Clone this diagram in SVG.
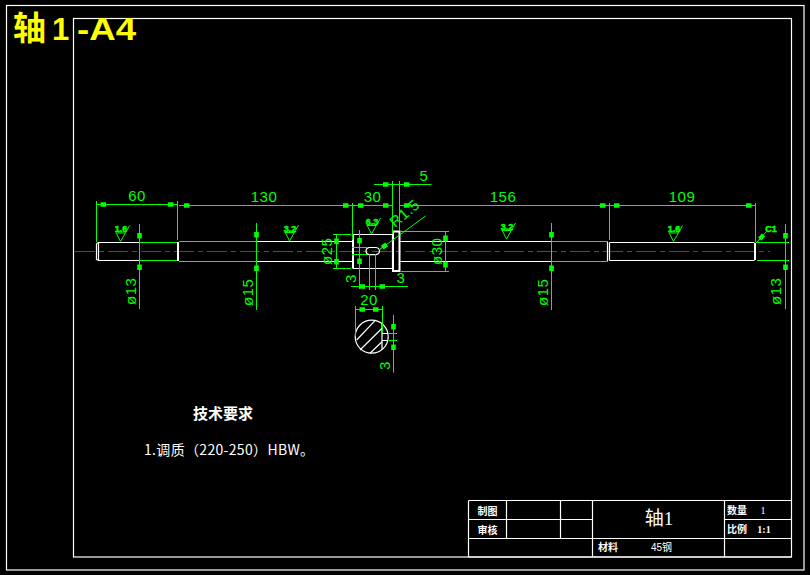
<svg xmlns="http://www.w3.org/2000/svg" xmlns:xlink="http://www.w3.org/1999/xlink" width="810" height="575" viewBox="0 0 810 575">
<style>
.w{fill:none;stroke:#fff;stroke-width:1.2}
.wb{fill:none;stroke:#fff;stroke-width:2}
.g{fill:none;stroke:#00ff00;stroke-width:1}
.gf{fill:#00ff00;stroke:none}
.c{fill:none;stroke:#ff0000;stroke-width:1;stroke-dasharray:20 4 5 4}
.dt{font-family:"Liberation Sans",sans-serif;font-size:15px;fill:#00ff00;letter-spacing:.5px}
.rt{font-family:"Liberation Sans",sans-serif;font-size:9px;font-weight:bold;fill:#00ff00;stroke:#00ff00;stroke-width:.5}
.wt{font-family:"Noto Sans CJK SC",sans-serif;fill:#fff}
.tb{font-family:"Noto Sans CJK SC",sans-serif;font-size:10px;font-weight:bold;fill:#fff}
.y{font-family:"Liberation Sans",sans-serif;font-size:31px;font-weight:bold;fill:#ffff00}
.m{text-anchor:middle}
</style>
<defs>
<path id="a" class="gf" d="M0 0L4-.5V-2.300H9.500V2.300H4V.5Z"/>
<g id="rough"><path class="g" d="M-5-8.500H4.500M-4-8L0 0L9-16"/></g>
</defs>
<rect width="810" height="575" fill="#000"/>
<g id="frame">
<rect class="w" x="6.500" y="5.500" width="797.500" height="564.500"/>
<rect class="w" x="73.500" y="18.500" width="718" height="538.500"/>
</g>
<g id="sheet-title">
<text x="13" y="40" font-family="'Noto Sans CJK SC',sans-serif" font-size="33" font-weight="bold" fill="#ffff00">轴</text>
<text class="y" x="52" y="40">1</text>
<text class="y" x="77" y="40" textLength="59" lengthAdjust="spacingAndGlyphs">-A4</text>
</g>
<g id="centerline"><path class="c" d="M75 251.500H770"/></g>
<g id="shaft">
<path class="w" d="M96.500 243.500L98.500 242.500H140M98.500 260.500H140M98.500 242.500V260.500M96.500 243.500V259.500L98.500 260.500"/>
<path class="wb" d="M178 242V261"/>
<path class="w" d="M257 241.500H352.500M257 261.500H352.500"/>
<path class="wb" d="M353 235V268.500"/>
<path class="w" d="M353 234.500H392.500V268.500H353"/>
<rect class="wb" x="393" y="231.500" width="6.500" height="39.500"/>
<path class="w" d="M400 241.500H551M400 261.500H551"/>
<path class="w" d="M607.500 241.500V261.500M609.500 242.500V260.500M609.500 242.500H754.500M609.500 260.500H754.500"/>
<path class="wb" d="M755 243V260"/>
<path class="w" d="M369 247.500H376Q379.500 248 379.500 251T376 254.700H369Q366 254 366 251T369 247.500Z"/>
</g>
<g id="section">
<circle class="w" cx="371.700" cy="336.700" r="16.500"/>
<path class="w" d="M382 324V349.500M382 333.500H388M382 340.500H388"/>
<path class="w" d="M356.700 340L375 320.700M360 350L382 328.300M370 353.300L382 341.700"/>
</g>
<g id="connectors">
<path class="g" d="M140 242.500H177M140 260.500H177M179 241.500H257M179 261.500H257M551 241.500H607M551 261.500H607"/>
<path class="g" d="M96.500 201V242M177.500 201V240M352.500 203V240M392.500 181V234M399.500 181V231M609.500 203V240M755.500 203V242"/>
<path class="g" d="M96.500 204.500H177.500M179 205.500H352.500M352.500 205.500H392.500M374 184.500H431.500M399.500 205.500H609.500M609.500 205.500H755.500"/>
<path class="g" d="M139.500 224V309M256.500 223V310M551.500 223V310M785.500 224V309M756 242.500H789M757 260.500H789"/>
<path class="g" d="M333 234.500H351M333 268.500H351M336.500 234.500V268.500M400 231.500H449M401 271.500H449M445.500 231.500V271.500"/>
<path class="g" d="M359.500 230V289M369.500 254V290M375.500 254V290M351 286.500H408M352 247.500H367M352 254.500H367"/>
<path class="g" d="M355.500 306V336M382.500 306V333M355.500 309.500H382.500"/>
<path class="g" d="M393.500 315V372.500M388.500 333.500H397M388.500 340.500H397"/>
<path class="g" d="M379 250L425.500 216M757 242L767 231"/>
<use xlink:href="#a" transform="translate(96.500 204.500)"/>
<use xlink:href="#a" transform="translate(177.500 204.500) rotate(180)"/>
<use xlink:href="#a" transform="translate(180 205.500)"/>
<use xlink:href="#a" transform="translate(352.500 205.500) rotate(180)"/>
<use xlink:href="#a" transform="translate(354 205.500)"/>
<use xlink:href="#a" transform="translate(392.500 205.500) rotate(180)"/>
<use xlink:href="#a" transform="translate(392.500 184.500) rotate(180)"/>
<use xlink:href="#a" transform="translate(400 184.500)"/>
<use xlink:href="#a" transform="translate(400 205.500)"/>
<use xlink:href="#a" transform="translate(609.500 205.500) rotate(180)"/>
<use xlink:href="#a" transform="translate(610 205.500)"/>
<use xlink:href="#a" transform="translate(755.500 205.500) rotate(180)"/>
<use xlink:href="#a" transform="translate(139.500 242.500) rotate(-90)"/>
<use xlink:href="#a" transform="translate(139.500 260.500) rotate(90)"/>
<use xlink:href="#a" transform="translate(256.500 241.500) rotate(-90)"/>
<use xlink:href="#a" transform="translate(256.500 261.500) rotate(90)"/>
<use xlink:href="#a" transform="translate(551.500 241.500) rotate(-90)"/>
<use xlink:href="#a" transform="translate(551.500 261.500) rotate(90)"/>
<use xlink:href="#a" transform="translate(785.500 242.500) rotate(-90)"/>
<use xlink:href="#a" transform="translate(785.500 260.500) rotate(90)"/>
<use xlink:href="#a" transform="translate(336.500 234.500) rotate(90)"/>
<use xlink:href="#a" transform="translate(336.500 268.500) rotate(-90)"/>
<use xlink:href="#a" transform="translate(445.500 231.500) rotate(90)"/>
<use xlink:href="#a" transform="translate(445.500 271.500) rotate(-90)"/>
<use xlink:href="#a" transform="translate(359.500 247.500) rotate(-90)"/>
<use xlink:href="#a" transform="translate(359.500 254.500) rotate(90)"/>
<use xlink:href="#a" transform="translate(369 286.500) rotate(180)"/>
<use xlink:href="#a" transform="translate(375.500 286.500)"/>
<use xlink:href="#a" transform="translate(355.500 309.500)"/>
<use xlink:href="#a" transform="translate(382.500 309.500) rotate(180)"/>
<use xlink:href="#a" transform="translate(393.500 333.500) rotate(-90)"/>
<use xlink:href="#a" transform="translate(393.500 340.500) rotate(90)"/>
<use xlink:href="#a" transform="translate(379 250) rotate(-36)"/>
<use xlink:href="#a" transform="translate(757 242) rotate(-47)"/>
</g>
<g id="dimensions">
<text class="dt m" x="137" y="201">60</text>
<text class="dt m" x="264" y="202">130</text>
<text class="dt m" x="372.500" y="202">30</text>
<text class="dt m" x="424" y="181">5</text>
<text class="dt m" x="503" y="202">156</text>
<text class="dt m" x="682" y="202">109</text>
<text class="dt" transform="translate(136 305) rotate(-90)">ø13</text>
<text class="dt" transform="translate(253 306) rotate(-90)">ø15</text>
<text class="dt" transform="translate(548 306) rotate(-90)">ø15</text>
<text class="dt" transform="translate(781 305) rotate(-90)">ø13</text>
<text class="dt" transform="translate(332 265) rotate(-90)">ø25</text>
<text class="dt" transform="translate(442 265) rotate(-90)">ø30</text>
<text class="dt" transform="translate(395 228) rotate(-40)">R1.5</text>
<text class="dt" transform="translate(356 283) rotate(-90)">3</text>
<text class="dt m" x="401" y="283">3</text>
<text class="dt m" x="369" y="305">20</text>
<text class="dt" transform="translate(390 370) rotate(-90)">3</text>
</g>
<g id="roughness">
<use xlink:href="#rough" transform="translate(120.500 241.500)"/><text class="rt m" x="121" y="232">1.6</text>
<use xlink:href="#rough" transform="translate(289.500 241)"/><text class="rt m" x="290" y="232">3.2</text>
<use xlink:href="#rough" transform="translate(371.500 234)"/><text class="rt m" x="372" y="224.500">6.3</text>
<use xlink:href="#rough" transform="translate(506.500 239)"/><text class="rt m" x="507" y="230">3.2</text>
<use xlink:href="#rough" transform="translate(673.500 241.500)"/><text class="rt m" x="674" y="232">1.6</text>
<text class="rt m" x="771" y="231.500">C1</text>
</g>
<g id="notes">
<text class="wt m" x="223" y="419" font-size="15" font-weight="bold">技术要求</text>
<text class="wt" x="144" y="455" font-size="14" textLength="170" lengthAdjust="spacing">1.调质（220-250）HBW。</text>
</g>
<g id="title-block">
<path class="w" d="M468.500 500.500H791.500M468.500 519.500H592.500M724.500 519.500H791.500M468.500 538.500H791.500M468.500 557H791.500M468.500 500.500V557M506.500 500.500V538.500M560.500 500.500V538.500M592.500 500.500V557M724.500 500.500V557"/>
<text class="tb m" x="487.500" y="515">制图</text>
<text class="tb m" x="487.500" y="534">审核</text>
<text class="tb m" x="608" y="551">材料</text>
<text x="651" y="551" font-family="'Liberation Sans','Noto Sans CJK SC',sans-serif" font-size="10" fill="#fff">45钢</text>
<text class="m" x="659" y="525" font-family="'Liberation Serif','Noto Sans CJK SC',serif" font-size="19" fill="#fff">轴1</text>
<text class="tb" x="727" y="514">数量</text>
<text x="763" y="514" font-family="'Liberation Serif',serif" font-size="10" fill="#fff" text-anchor="middle">1</text>
<text class="tb" x="727" y="532.500">比例</text>
<text x="764" y="532.500" font-family="'Liberation Serif',serif" font-size="10" font-weight="bold" fill="#fff" text-anchor="middle">1:1</text>
</g>
</svg>
